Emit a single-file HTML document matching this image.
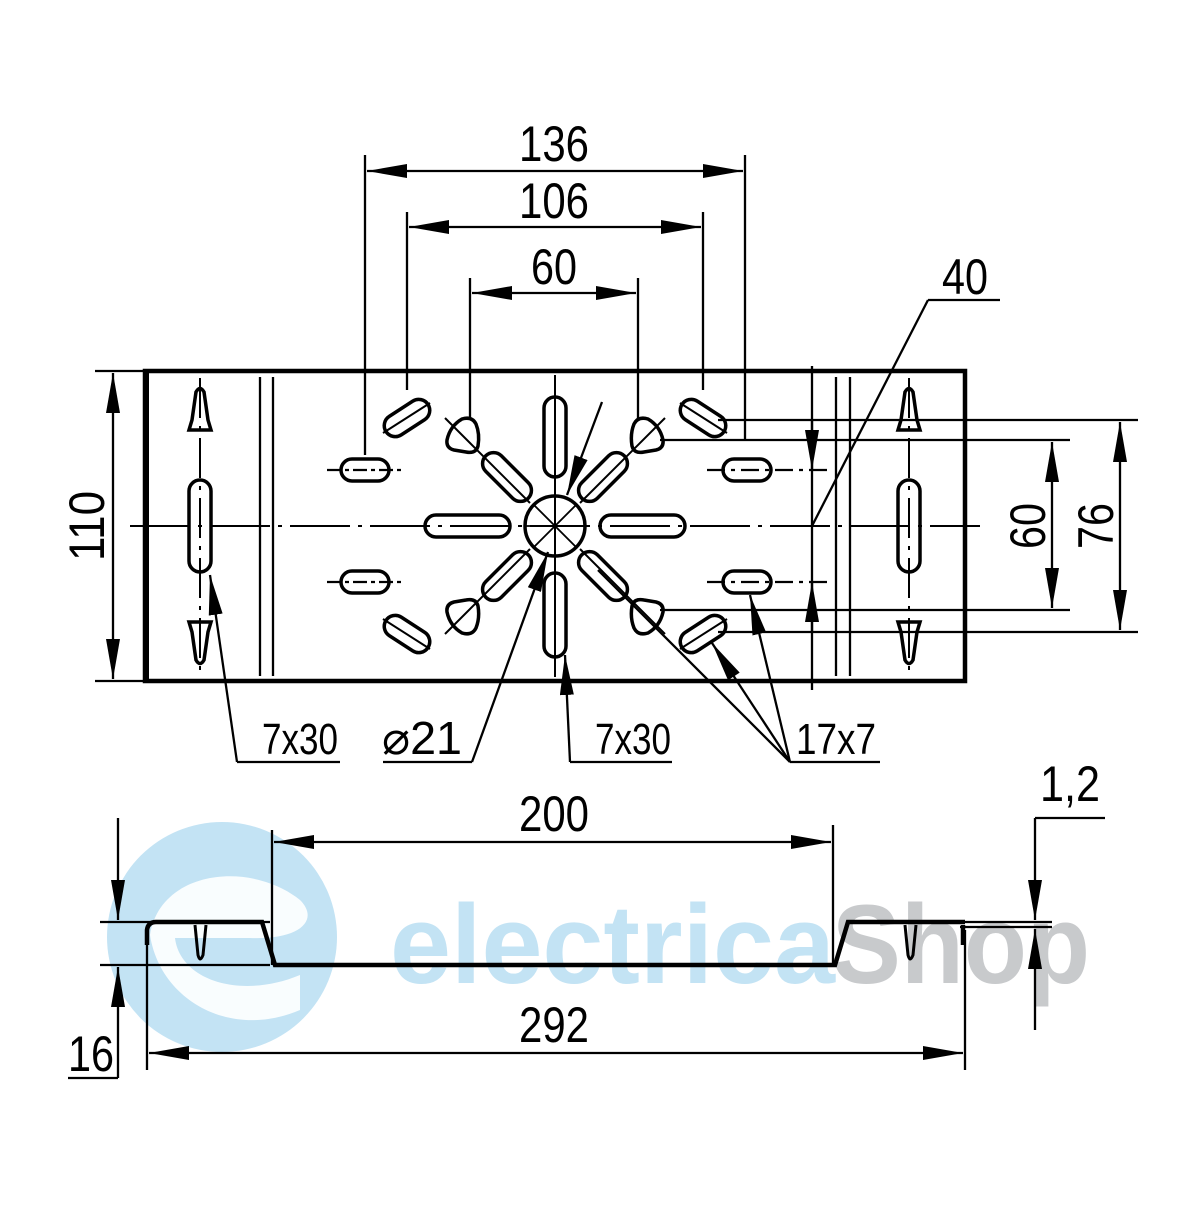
<!DOCTYPE html>
<html><head><meta charset="utf-8"><style>
html,body{margin:0;padding:0;background:#fff}
svg text{font-family:"Liberation Sans",sans-serif;fill:#000}
</style></head><body>
<svg width="1200" height="1200" viewBox="0 0 1200 1200" xmlns="http://www.w3.org/2000/svg">
<defs>
<marker id="a" viewBox="0 0 40 14" refX="40" refY="7" markerWidth="40" markerHeight="14" markerUnits="userSpaceOnUse" orient="auto-start-reverse"><path d="M0,0 L40,7 L0,14 Z" fill="#000"/></marker>
</defs>
<g>
<circle cx="222" cy="937" r="115" fill="#c3e3f4"/>
<path d="M150,935 C160,870 250,860 300,900 C320,920 300,940 250,938 L175,938 C180,980 240,1000 300,975 L300,1010 C230,1040 160,1000 150,935 Z" fill="#fff" opacity="0.9"/>
<text x="390" y="983" font-size="112" textLength="445" lengthAdjust="spacingAndGlyphs" style="font-weight:bold;fill:#c3e3f4">electrica</text>
<text x="832" y="983" font-size="112" textLength="258" lengthAdjust="spacingAndGlyphs" style="font-weight:bold;fill:#c8cacc">Shop</text>
</g>
<g stroke="#000" fill="none" stroke-width="2.3">
<rect x="145" y="371" width="820" height="310" stroke-width="4.5"/>
<line x1="146" y1="371" x2="146" y2="681" stroke-width="6"/>
<line x1="260" y1="377" x2="260" y2="676"/><line x1="273" y1="377" x2="273" y2="676"/>
<line x1="836" y1="377" x2="836" y2="676"/><line x1="850" y1="377" x2="850" y2="676"/>
<line x1="130" y1="526" x2="980" y2="526" stroke-dasharray="60,8,4,8" stroke-width="2"/>
<line x1="200" y1="378" x2="200" y2="675" stroke-dasharray="40,8,4,8" stroke-width="2"/>
<line x1="909" y1="378" x2="909" y2="675" stroke-dasharray="40,8,4,8" stroke-width="2"/>
<line x1="555" y1="375" x2="555" y2="677" stroke-width="2"/>
<rect x="189" y="480" width="22" height="92" rx="11" stroke-width="3.5"/>
<path d="M192,420 L196,392 Q200,385 204,392 L208,420 L211,430 L189,430 Z" stroke-width="3.5"/>
<path d="M192,632 L196,660 Q200,667 204,660 L208,632 L211,622 L189,622 Z" stroke-width="3.5"/>
<rect x="898" y="480" width="22" height="92" rx="11" stroke-width="3.5"/>
<path d="M901,420 L905,392 Q909,385 913,392 L917,420 L920,430 L898,430 Z" stroke-width="3.5"/>
<path d="M901,632 L905,660 Q909,667 913,660 L917,632 L920,622 L898,622 Z" stroke-width="3.5"/>
<g stroke-width="3.5">
<rect x="341" y="459" width="48" height="22" rx="11"/><rect x="341" y="571" width="48" height="22" rx="11"/>
<rect x="723" y="459" width="48" height="22" rx="11"/><rect x="723" y="571" width="48" height="22" rx="11"/>
<rect x="425" y="515" width="85" height="22" rx="11"/><rect x="600" y="515" width="85" height="22" rx="11"/>
<rect x="544" y="397" width="22" height="80" rx="11"/><rect x="544" y="573" width="22" height="84" rx="11"/>
<circle cx="555" cy="526" r="30"/>
</g>
<line x1="327" y1="470" x2="403" y2="470" stroke-dasharray="14,4,4,4"/><line x1="327" y1="582" x2="403" y2="582" stroke-dasharray="14,4,4,4"/>
<line x1="707" y1="470" x2="830" y2="470" stroke-dasharray="18,6,4,6"/><line x1="707" y1="582" x2="830" y2="582" stroke-dasharray="18,6,4,6"/>
<g stroke-width="1.8"><line x1="534" y1="505" x2="576" y2="547"/><line x1="576" y1="505" x2="534" y2="547"/><line x1="525" y1="526" x2="585" y2="526"/></g>
<g stroke-width="3.5">
<g transform="translate(507,477) rotate(45)"><rect x="-30" y="-11" width="60" height="22" rx="11"/></g>
<g transform="translate(603,477) rotate(-45)"><rect x="-30" y="-11" width="60" height="22" rx="11"/></g>
<g transform="translate(507,576) rotate(-45)"><rect x="-30" y="-11" width="60" height="22" rx="11"/></g>
<g transform="translate(603,576) rotate(45)"><rect x="-30" y="-11" width="60" height="22" rx="11"/></g>
<g transform="translate(407,418) rotate(-33)"><rect x="-25" y="-11" width="50" height="22" rx="11"/></g>
<g transform="translate(407,634) rotate(33)"><rect x="-25" y="-11" width="50" height="22" rx="11"/></g>
<g transform="translate(703,418) rotate(33)"><rect x="-25" y="-11" width="50" height="22" rx="11"/></g>
<g transform="translate(703,634) rotate(-33)"><rect x="-25" y="-11" width="50" height="22" rx="11"/></g>
<path d="M462,419 Q472,416 476,424 Q480,434 478,446 Q476,454 466,452 L454,450 Q446,448 447,440 Q450,426 462,419 Z"/>
<path d="M648,419 Q638,416 634,424 Q630,434 632,446 Q634,454 644,452 L656,450 Q664,448 663,440 Q660,426 648,419 Z"/>
<path d="M462,633 Q472,636 476,628 Q480,618 478,606 Q476,598 466,600 L454,602 Q446,604 447,612 Q450,626 462,633 Z"/>
<path d="M648,633 Q638,636 634,628 Q630,618 632,606 Q634,598 644,600 L656,602 Q664,604 663,612 Q660,626 648,633 Z"/>
</g>
<g stroke-width="2">
<line x1="445" y1="418" x2="530" y2="503"/><line x1="665" y1="418" x2="580" y2="503"/>
<line x1="445" y1="634" x2="530" y2="549"/><line x1="665" y1="634" x2="580" y2="549"/>
<line x1="383" y1="433" x2="430" y2="403"/><line x1="383" y1="619" x2="430" y2="649"/>
<line x1="680" y1="403" x2="727" y2="433"/><line x1="680" y1="649" x2="727" y2="619"/>
</g>
<line x1="365" y1="155" x2="365" y2="455"/><line x1="745" y1="155" x2="745" y2="440"/>
<line x1="367" y1="171" x2="743" y2="171" marker-start="url(#a)" marker-end="url(#a)"/>
<line x1="407" y1="212" x2="407" y2="390"/><line x1="703" y1="212" x2="703" y2="390"/>
<line x1="409" y1="227" x2="701" y2="227" marker-start="url(#a)" marker-end="url(#a)"/>
<line x1="470" y1="278" x2="470" y2="420"/><line x1="638" y1="278" x2="638" y2="420"/>
<line x1="472" y1="293" x2="636" y2="293" marker-start="url(#a)" marker-end="url(#a)"/>
<line x1="928" y1="300" x2="1000" y2="300"/><line x1="928" y1="300" x2="812" y2="526"/>
<line x1="812" y1="366" x2="812" y2="690"/>
<line x1="812" y1="420" x2="812" y2="470" marker-end="url(#a)"/>
<line x1="812" y1="632" x2="812" y2="582" marker-end="url(#a)"/>
<line x1="718" y1="420" x2="1138" y2="420"/><line x1="718" y1="632" x2="1138" y2="632"/>
<line x1="660" y1="440" x2="1070" y2="440"/><line x1="660" y1="610" x2="1070" y2="610"/>
<line x1="1120" y1="422" x2="1120" y2="630" marker-start="url(#a)" marker-end="url(#a)"/>
<line x1="1052" y1="442" x2="1052" y2="608" marker-start="url(#a)" marker-end="url(#a)"/>
<line x1="95" y1="371" x2="145" y2="371"/><line x1="95" y1="681" x2="145" y2="681"/>
<line x1="113" y1="373" x2="113" y2="679" marker-start="url(#a)" marker-end="url(#a)"/>
<line x1="237" y1="762" x2="340" y2="762"/><line x1="237" y1="762" x2="210" y2="575" marker-end="url(#a)"/>
<line x1="383" y1="762" x2="472" y2="762"/><line x1="472" y1="762" x2="548" y2="552" marker-end="url(#a)"/>
<line x1="602" y1="402" x2="567" y2="495" marker-end="url(#a)"/>
<line x1="570" y1="762" x2="672" y2="762"/><line x1="570" y1="762" x2="565" y2="655" marker-end="url(#a)"/>
<line x1="790" y1="762" x2="880" y2="762"/>
<line x1="790" y1="762" x2="598" y2="570"/>
<line x1="790" y1="762" x2="712" y2="643" marker-end="url(#a)"/>
<line x1="790" y1="762" x2="750" y2="595" marker-end="url(#a)"/>
<path d="M147,945 L147,930 Q148,922 156,922 L262,922 L275,965 L835,965 L848,922 L965,922" stroke-width="4.5"/>
<line x1="965" y1="922" x2="1052" y2="922"/><line x1="960" y1="927" x2="1052" y2="927"/>
<path d="M195,925 L198,955 Q200,963 203,955 L206,925" stroke-width="3"/>
<path d="M905,925 L908,955 Q910,963 913,955 L916,925" stroke-width="3"/>
<line x1="963" y1="925" x2="963" y2="945" stroke-width="4.5"/>
<line x1="100" y1="922" x2="270" y2="922"/><line x1="100" y1="965" x2="270" y2="965"/>
<line x1="118" y1="818" x2="118" y2="920" marker-end="url(#a)"/>
<line x1="118" y1="1078" x2="118" y2="967" marker-end="url(#a)"/>
<line x1="68" y1="1078" x2="118" y2="1078"/>
<line x1="272" y1="830" x2="272" y2="965"/><line x1="833" y1="825" x2="833" y2="965"/>
<line x1="274" y1="842" x2="831" y2="842" marker-start="url(#a)" marker-end="url(#a)"/>
<line x1="147" y1="945" x2="147" y2="1070"/><line x1="965" y1="930" x2="965" y2="1070"/>
<line x1="149" y1="1053" x2="963" y2="1053" marker-start="url(#a)" marker-end="url(#a)"/>
<line x1="1035" y1="818" x2="1105" y2="818"/>
<line x1="1035" y1="818" x2="1035" y2="920" marker-end="url(#a)"/>
<line x1="1035" y1="1030" x2="1035" y2="929" marker-end="url(#a)"/>
</g>
<g font-size="50">
<text x="519" y="161" textLength="70" lengthAdjust="spacingAndGlyphs">136</text>
<text x="519" y="218" textLength="70" lengthAdjust="spacingAndGlyphs">106</text>
<text x="531" y="284" textLength="46" lengthAdjust="spacingAndGlyphs">60</text>
<text x="942" y="294" textLength="46" lengthAdjust="spacingAndGlyphs">40</text>
<text x="519" y="831" textLength="70" lengthAdjust="spacingAndGlyphs">200</text>
<text x="519" y="1042" textLength="70" lengthAdjust="spacingAndGlyphs">292</text>
<text x="1040" y="801" textLength="60" lengthAdjust="spacingAndGlyphs">1,2</text>
<text x="68" y="1071" textLength="46" lengthAdjust="spacingAndGlyphs">16</text>
<text x="262" y="754" font-size="44" textLength="76" lengthAdjust="spacingAndGlyphs">7x30</text>
<text x="382" y="754" font-size="46" textLength="80" lengthAdjust="spacingAndGlyphs">⌀21</text>
<text x="595" y="754" font-size="44" textLength="76" lengthAdjust="spacingAndGlyphs">7x30</text>
<text x="796" y="754" font-size="44" textLength="80" lengthAdjust="spacingAndGlyphs">17x7</text>
<text transform="translate(104,561) rotate(-90)" textLength="70" lengthAdjust="spacingAndGlyphs">110</text>
<text transform="translate(1045,549) rotate(-90)" textLength="46" lengthAdjust="spacingAndGlyphs">60</text>
<text transform="translate(1113,549) rotate(-90)" textLength="46" lengthAdjust="spacingAndGlyphs">76</text>
</g>
</svg>
</body></html>
